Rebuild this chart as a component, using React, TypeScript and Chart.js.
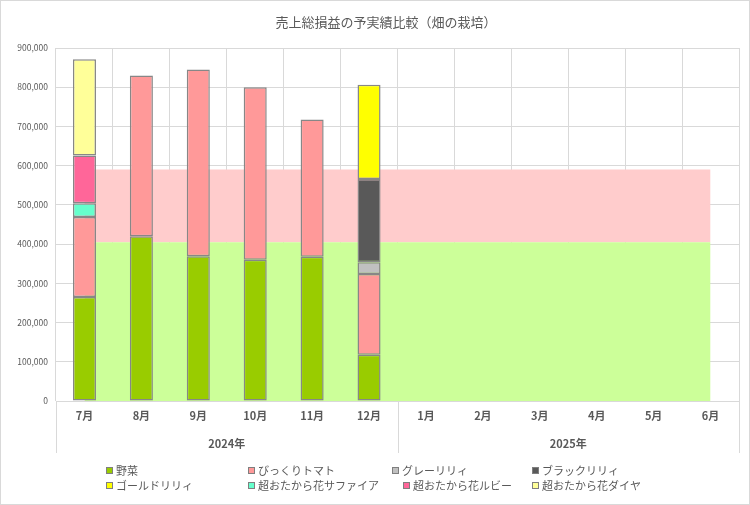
import React, { useEffect, useRef } from 'react';
import { Chart, registerables } from 'chart.js';

Chart.register(...registerables);

const FONT = '"Noto Sans CJK JP", "Noto Sans", sans-serif';

const chartTitle = '売上総損益の予実績比較（畑の栽培）';
const months = ['7月', '8月', '9月', '10月', '11月', '12月', '1月', '2月', '3月', '4月', '5月', '6月'];
const years = ['2024年', '2025年'];
const yTicks = [0, 100000, 200000, 300000, 400000, 500000, 600000, 700000, 800000, 900000];

// plan (background areas)
const planVegetables = [405000, 405000, 405000, 405000, 405000, 405000, 405000, 405000, 405000, 405000, 405000, 405000];
const planOther = [185000, 185000, 185000, 185000, 185000, 185000, 185000, 185000, 185000, 185000, 185000, 185000];

// actual (stacked bars)
const seriesNames = ['野菜', 'びっくりトマト', 'グレーリリィ', 'ブラックリリィ', 'ゴールドリリィ', '超おたから花サファイア', '超おたから花ルビー', '超おたから花ダイヤ'];
const vegetables = [265000, 420000, 369000, 360000, 368000, 118000, null, null, null, null, null, null];
const tomato = [204000, 410000, 476000, 440000, 350000, 206000, null, null, null, null, null, null];
const grayLily = [null, null, null, null, null, 30000, null, null, null, null, null, null];
const blackLily = [null, null, null, null, null, 212000, null, null, null, null, null, null];
const goldLily = [null, null, null, null, null, 240000, null, null, null, null, null, null];
const sapphire = [35000, null, null, null, null, null, null, null, null, null, null, null];
const ruby = [122000, null, null, null, null, null, null, null, null, null, null, null];
const diamond = [245000, null, null, null, null, null, null, null, null, null, null, null];
const seriesValues = [vegetables, tomato, grayLily, blackLily, goldLily, sapphire, ruby, diamond];
const seriesColors = ['#99CC00', '#FF9999', '#C0C0C0', '#595959', '#FFFF00', '#66FFCC', '#FF6699', '#FFFF99'];

const TEXT = '#595959';
const GRID = '#d9d9d9';

const legendSlots = [
  [106, 470.5], [248, 470.5], [392, 470.5], [532, 470.5],
  [106, 485.5], [248, 485.5], [403, 485.5], [532, 485.5],
];

const decorPlugin = {
  id: 'decor',
  beforeDraw(chart: any) {
    const ctx = chart.ctx;
    ctx.save();
    ctx.fillStyle = '#ffffff';
    ctx.fillRect(0, 0, chart.width, chart.height);
    ctx.restore();
  },
  afterDraw(chart: any) {
    const ctx = chart.ctx;
    const x = chart.scales.x;
    const x2 = chart.scales.x2;
    ctx.save();
    // title
    ctx.fillStyle = TEXT;
    ctx.font = `13px ${FONT}`;
    ctx.textAlign = 'center';
    ctx.textBaseline = 'middle';
    ctx.fillText(chartTitle, 386, 22);
    // year separators
    ctx.strokeStyle = GRID;
    ctx.lineWidth = 1;
    const mid = (x.getPixelForValue(5) + x.getPixelForValue(6)) / 2;
    [x.left, mid, x.right].forEach((px: number) => {
      const p = Math.round(px) + 0.5;
      ctx.beginPath();
      ctx.moveTo(p, x.top);
      ctx.lineTo(p, x2.bottom);
      ctx.stroke();
    });
    // legend
    ctx.textAlign = 'left';
    ctx.font = `11px ${FONT}`;
    const bars = chart.data.datasets.filter((d: any) => d.type === 'bar');
    bars.forEach((d: any, i: number) => {
      const [lx, ly] = legendSlots[i];
      ctx.fillStyle = d.backgroundColor;
      ctx.fillRect(lx, ly - 3.5, 7, 7);
      ctx.strokeStyle = '#7f7f7f';
      ctx.strokeRect(lx + 0.5, ly - 3, 6, 6);
      ctx.fillStyle = TEXT;
      ctx.fillText(d.label, lx + 10, ly);
    });
    // frame
    ctx.strokeStyle = GRID;
    ctx.strokeRect(0.5, 0.5, chart.width - 1, chart.height - 1);
    ctx.restore();
  },
};

export default function App() {
  const ref = useRef<HTMLCanvasElement>(null);
  useEffect(() => {
    document.body.style.margin = '0';
    Chart.defaults.font.family = FONT;
    const datasets: any[] = [
      {
        type: 'line', label: '計画（野菜）', data: planVegetables, backgroundColor: '#CCFF99',
        borderColor: 'rgba(0,0,0,0)', borderWidth: 0, pointRadius: 0, fill: 'origin', stack: 'plan', order: 2, tension: 0,
      },
      {
        type: 'line', label: '計画（その他）', data: planOther, backgroundColor: '#FFCCCC',
        borderColor: 'rgba(0,0,0,0)', borderWidth: 0, pointRadius: 0, fill: '-1', stack: 'plan', order: 2, tension: 0,
      },
      ...seriesNames.map((name, i) => ({
        type: 'bar', label: name, data: seriesValues[i], backgroundColor: seriesColors[i],
        borderColor: '#878787', borderWidth: 1.5, borderSkipped: false, stack: 'actual', order: 1,
        categoryPercentage: 1, barPercentage: 0.405,
      })),
    ];
    const chart = new Chart(ref.current as HTMLCanvasElement, {
      type: 'bar',
      data: { labels: months, datasets },
      options: {
        responsive: false,
        animation: false,
        layout: { padding: { top: 48, left: 0, right: 11, bottom: 52 } },
        plugins: { legend: { display: false }, title: { display: false }, tooltip: { enabled: false } },
        scales: {
          x: {
            stacked: true, offset: true, weight: 0,
            grid: { offset: true, color: GRID, drawTicks: false },
            border: { color: GRID },
            ticks: { autoSkip: false, maxRotation: 0, padding: 8, color: TEXT, font: { size: 11, weight: 'bold' } },
            afterFit: (s: any) => { s.height = 22; },
          },
          x2: {
            type: 'category', labels: years, position: 'bottom', offset: true, weight: 1,
            grid: { display: false }, border: { display: false },
            ticks: { autoSkip: false, maxRotation: 0, padding: 6, color: TEXT, font: { size: 11, weight: 'bold' } },
            afterFit: (s: any) => { s.height = 30; },
          },
          y: {
            stacked: true, min: 0, max: 900000,
            afterBuildTicks: (s: any) => { s.ticks = yTicks.map((v) => ({ value: v })); },
            grid: { color: GRID, drawTicks: false },
            border: { display: false },
            ticks: { padding: 8, color: TEXT, font: { size: 8.5 }, callback: (v: any) => Number(v).toLocaleString('en-US') },
            afterFit: (s: any) => { s.width = 56; },
          },
        },
      } as any,
      plugins: [decorPlugin],
    });
    return () => chart.destroy();
  }, []);
  return (
    <div style={{ position: 'absolute', left: 0, top: 0, width: 750, height: 505 }}>
      <canvas ref={ref} width={750} height={505} style={{ display: 'block', width: 750, height: 505 }} />
    </div>
  );
}
